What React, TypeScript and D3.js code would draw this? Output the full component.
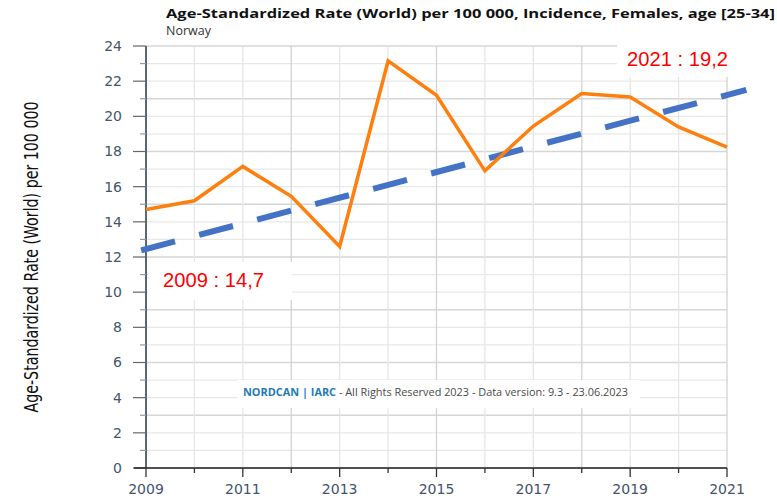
import React from "react";
import * as d3 from "d3";

const years = [2009, 2010, 2011, 2012, 2013, 2014, 2015, 2016, 2017, 2018, 2019, 2020, 2021];
const rates = [14.7, 15.2, 17.15, 15.45, 12.6, 23.15, 21.2, 16.9, 19.45, 21.3, 21.1, 19.4, 18.25];
const trendYears = [2008.9, 2021.4];
const trendValues = [12.38, 21.5];
const yTicks = [0, 2, 4, 6, 8, 10, 12, 14, 16, 18, 20, 22, 24];
const xLabelYears = [2009, 2011, 2013, 2015, 2017, 2019, 2021];

const W = 777;
const H = 498;

export default function App() {
  const x = d3.scaleLinear().domain([2009, 2021]).range([146, 727]);
  const y = d3.scaleLinear().domain([0, 24]).range([468, 46]);
  const line = d3
    .line<[number, number]>()
    .x((d) => x(d[0]))
    .y((d) => y(d[1]));
  const orange = line(years.map((yr, i) => [yr, rates[i]]));
  const trend = line(trendYears.map((yr, i) => [yr, trendValues[i]]));
  const minorY = d3.range(0, 25, 1);
  const font = "'Open Sans', 'Noto Sans', sans-serif";
  const tickFont = "'DejaVu Sans', Verdana, sans-serif";
  const slate = "#44546a";

  return (
    <svg
      width={W}
      height={H}
      style={{ position: "absolute", left: 0, top: 0, background: "#fff" }}
    >
      <rect width={W} height={H} fill="#fff" />
      {/* grid */}
      {minorY.map((v) => (
        <line
          key={"h" + v}
          x1={146}
          x2={727}
          y1={y(v)}
          y2={y(v)}
          stroke={v % 3 === 0 ? "#d6d6d6" : "#e8e8e8"}
          strokeWidth={1.3}
        />
      ))}
      {years.map((yr) => (
        <line
          key={"v" + yr}
          x1={x(yr)}
          x2={x(yr)}
          y1={y(24)}
          y2={y(0)}
          stroke={(yr - 2009) % 3 === 0 ? "#d3d3d3" : "#e6e6e6"}
          strokeWidth={1.3}
        />
      ))}
      {/* white label boxes */}
      <rect x={237} y={380} width={403} height={28} fill="#fff" />
      <rect x={148} y={262} width={144} height={38} fill="#fff" />
      <rect x={617} y={40} width={160} height={37} fill="#fff" />

      {/* y axis */}
      <line x1={146} x2={146} y1={y(24)} y2={y(0)} stroke="#2c3e50" strokeWidth={1.5} />
      {minorY.map((v) => (
        <line
          key={"yt" + v}
          x1={v % 2 === 0 ? 133 : 140}
          x2={146}
          y1={y(v)}
          y2={y(v)}
          stroke={v % 2 === 0 ? "#666" : "#999"}
          strokeWidth={1.2}
        />
      ))}
      {yTicks.map((v) => (
        <text
          key={"yl" + v}
          x={122}
          y={y(v)}
          dy="0.35em"
          textAnchor="end"
          fontFamily={tickFont}
          fontSize={14}
          fill={slate}
        >
          {v}
        </text>
      ))}
      {/* x axis */}
      <line x1={134} x2={727} y1={468} y2={468} stroke="#222" strokeWidth={1.5} />
      {years.map((yr) => (
        <line
          key={"xt" + yr}
          x1={x(yr)}
          x2={x(yr)}
          y1={468}
          y2={(yr - 2009) % 2 === 0 ? 477 : 473}
          stroke="#333"
          strokeWidth={1.3}
        />
      ))}
      {xLabelYears.map((yr) => (
        <text
          key={"xl" + yr}
          x={x(yr)}
          y={494}
          textAnchor="middle"
          fontFamily={tickFont}
          fontSize={14}
          fill={slate}
        >
          {yr}
        </text>
      ))}

      {/* series */}
      <path
        d={trend || ""}
        fill="none"
        stroke="#4472c4"
        strokeWidth={6}
        strokeDasharray="35 25"
      />
      <path d={orange || ""} fill="none" stroke="#ff7f0e" strokeWidth={3.5} strokeLinejoin="miter" />

      {/* titles */}
      <text
        x={166}
        y={18}
        fontFamily={font}
        fontWeight="bold"
        fontSize={13}
        fill="#111"
        textLength={609}
        lengthAdjust="spacingAndGlyphs"
      >
        Age-Standardized Rate (World) per 100 000, Incidence, Females, age [25-34]
      </text>
      <text x={166} y={35} fontFamily={font} fontSize={12.5} fill="#333">
        Norway
      </text>
      <text
        transform="translate(38,257) rotate(-90)"
        textAnchor="middle"
        fontFamily="'Liberation Sans Narrow', 'DejaVu Sans Condensed', sans-serif"
        fontSize={19}
        fill="#111"
        textLength={311}
        lengthAdjust="spacingAndGlyphs"
      >
        Age-Standardized Rate (World) per 100 000
      </text>

      {/* credit */}
      <text x={243} y={396} fontFamily={font} fontSize={10} textLength={385} lengthAdjust="spacingAndGlyphs">
        <tspan fill="#1f7ab8" fontWeight="bold">NORDCAN | IARC</tspan>
        <tspan fill="#4a4a4a"> - All Rights Reserved 2023 - Data version: 9.3 - 23.06.2023</tspan>
      </text>

      {/* annotations */}
      <text
        x={163}
        y={287}
        fontFamily="'Liberation Sans', Arial, sans-serif"
        fontSize={20}
        fill="#ff0000"
        textLength={101}
        lengthAdjust="spacingAndGlyphs"
      >
        2009 : 14,7
      </text>
      <text
        x={627}
        y={66}
        fontFamily="'Liberation Sans', Arial, sans-serif"
        fontSize={20}
        fill="#ff0000"
        textLength={101}
        lengthAdjust="spacingAndGlyphs"
      >
        2021 : 19,2
      </text>
    </svg>
  );
}
